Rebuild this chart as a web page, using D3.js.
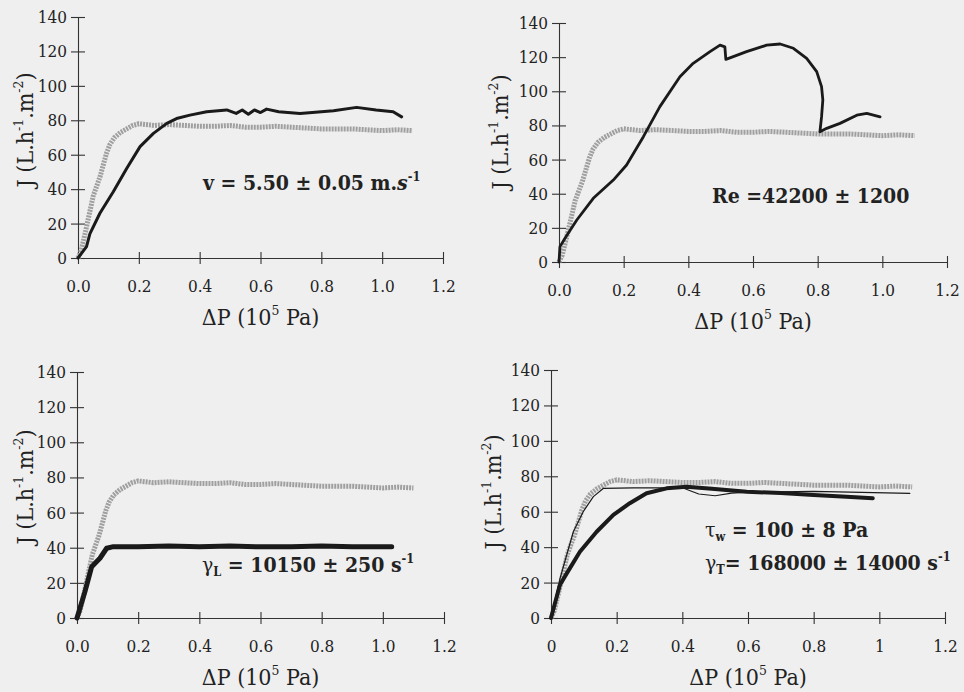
<!DOCTYPE html>
<html>
<head>
<meta charset="utf-8">
<script src="https://cdn.jsdelivr.net/npm/d3@7"></script>
<style>
  body { margin: 0; background: #efefef; }
  svg text { fill: #222; }
</style>
</head>
<body>
<div id="chart"></div>
<script>
// tick values
var xTicks = [0, 0.2, 0.4, 0.6, 0.8, 1.0, 1.2];
var yTicks = [0, 20, 40, 60, 80, 100, 120, 140];

// grey reference curve (same run in every panel) [dP, J]
var grayRef = [[0,0],[0.01,4],[0.023,14],[0.05,36],[0.072,47],[0.094,61],[0.105,66],[0.12,70],
  [0.14,73],[0.16,75],[0.18,77],[0.2,78],[0.25,77],[0.3,77.5],[0.35,77],[0.4,76.5],[0.45,76.5],
  [0.5,77],[0.55,76],[0.6,76],[0.65,76.5],[0.7,76],[0.75,75.5],[0.8,75],[0.85,75],[0.9,75],
  [0.95,74.5],[1.0,74],[1.05,74.5],[1.1,74]];

// black curves
var blackV = [[0,0],[0.028,6.6],[0.039,14],[0.072,26],[0.116,38.5],[0.16,52],[0.204,64.7],
  [0.248,72.4],[0.292,78.2],[0.324,81],[0.368,83],[0.423,85],[0.489,86],[0.52,84],[0.54,86],
  [0.56,83.5],[0.58,86],[0.6,84.5],[0.62,86.5],[0.66,85],[0.73,84],[0.84,85.5],[0.916,87.5],
  [0.98,86],[1.036,85],[1.064,82]];

var blackRe = [[0,0],[0.003,9],[0.019,14],[0.055,24.6],[0.106,37.3],[0.168,48],[0.209,56.8],
  [0.261,73.4],[0.312,91],[0.374,108.5],[0.415,116.4],[0.467,123.2],[0.498,127],[0.513,126],
  [0.516,118.7],[0.539,120.3],[0.58,123.2],[0.642,127],[0.684,127.7],[0.725,125.2],[0.766,119.3],
  [0.797,111.5],[0.812,102.7],[0.816,95],[0.812,85],[0.807,76.3],[0.828,78.3],[0.869,81.2],
  [0.921,86],[0.952,87],[0.993,85]];

var blackGammaL = [[0,0],[0.026,15],[0.048,29.2],[0.075,34],[0.097,39.7],[0.119,40.6],
  [0.2,40.5],[0.3,41],[0.4,40.5],[0.5,41],[0.6,40.5],[0.7,40.5],[0.8,41],[0.9,40.5],[1.029,40.5]];

var blackTau = [[0,0],[0.027,18.6],[0.048,25.2],[0.088,37.4],[0.139,48.7],[0.19,58.2],
  [0.24,64.8],[0.291,70.4],[0.352,73.2],[0.413,74.1],[0.49,73],[0.596,71.3],[0.7,70.5],
  [0.8,69.5],[0.9,68.5],[0.98,67.6]];

var thinTau = [[0,0],[0.027,22],[0.068,48.7],[0.098,60],[0.129,68.5],[0.16,73.2],[0.25,73.5],
  [0.4,73.5],[0.45,70],[0.5,69],[0.55,70.5],[0.6,71],[0.8,71.5],[1.093,70.4]];

var panels = [
  { x0: 78, x1: 443, yb: 258, yt: 17, ylx: 33, yly: 130, fmt: ".1f",
    lines: [{ d: blackV, w: 3 }],
    notes: [{ x: 203, y: 190, parts: [["v = 5.50 ± 0.05 m."], ["s", "i"], ["-1", "sup"]] }] },
  { x0: 559, x1: 947, yb: 262, yt: 23, ylx: 508, yly: 132, fmt: ".1f",
    lines: [{ d: blackRe, w: 2.8 }],
    notes: [{ x: 712, y: 203, parts: [["Re =42200 ± 1200"]] }] },
  { x0: 77, x1: 444, yb: 618, yt: 372, ylx: 33, yly: 487, fmt: ".1f",
    lines: [{ d: blackGammaL, w: 5 }],
    notes: [{ x: 202, y: 572, parts: [["γ", "n"], ["L", "sub"], [" = 10150 ± 250 s"], ["-1", "sup"]] }] },
  { x0: 551, x1: 945, yb: 618, yt: 370, ylx: 501, yly: 492, fmt: "",
    lines: [{ d: thinTau, w: 1.2 }, { d: blackTau, w: 4 }],
    notes: [{ x: 705, y: 537, parts: [["τ", "n"], ["w", "sub"], [" = 100 ± 8 Pa"]] },
            { x: 705, y: 570, parts: [["γ", "n"], ["T", "sub"], ["= 168000 ± 14000 s"], ["-1", "sup"]] }] }
];

var FONT = "DejaVu Serif Condensed, DejaVu Serif, serif";

var svg = d3.select("#chart").append("svg")
    .attr("width", 964).attr("height", 692)
    .attr("font-family", FONT);

svg.append("rect").attr("width", 964).attr("height", 692).attr("fill", "#efefef");

// writes text pieces with super/subscripts as tspans
function richText(t, parts, fs) {
  var shift = 0;
  parts.forEach(function(p) {
    var kind = p[1], want = 0, size = fs;
    if (kind === "sup") { want = -0.42 * fs; size = fs * 0.6; }
    if (kind === "sub") { want = 0.2 * fs; size = fs * 0.6; }
    var ts = t.append("tspan").text(p[0]).attr("font-size", size).attr("dy", want - shift);
    if (kind === "i") ts.attr("font-style", "italic");
    if (kind === "n") ts.attr("font-weight", "normal");
    shift = want;
  });
}

panels.forEach(function(p) {
  var x = d3.scaleLinear().domain([0, 1.2]).range([p.x0, p.x1]);
  var y = d3.scaleLinear().domain([0, 140]).range([p.yb, p.yt]);

  var fmt = p.fmt ? d3.format(p.fmt) : function(d) { return String(d); };

  var gx = svg.append("g").attr("transform", "translate(0," + p.yb + ")")
      .call(d3.axisBottom(x).tickValues(xTicks).tickFormat(fmt).tickSize(6).tickSizeOuter(0).tickPadding(16));
  gx.selectAll(".tick line").attr("y1", -6);

  var gy = svg.append("g").attr("transform", "translate(" + p.x0 + ",0)")
      .call(d3.axisLeft(y).tickValues(yTicks).tickSize(7).tickSizeOuter(0).tickPadding(4));
  gy.selectAll(".tick line").attr("x1", 7);

  svg.selectAll("g").attr("font-family", FONT);
  svg.selectAll(".domain, .tick line").attr("stroke", "#333").attr("stroke-width", 1.1);
  svg.selectAll(".tick text").attr("font-size", 17).attr("fill", "#222");

  var line = d3.line().x(function(d) { return x(d[0]); }).y(function(d) { return y(d[1]); });

  svg.append("path").datum(grayRef).attr("d", line)
      .attr("fill", "none").attr("stroke", "#9f9f9f").attr("stroke-width", 5)
      .attr("stroke-dasharray", "2,1").attr("stroke-linejoin", "round");

  p.lines.forEach(function(l) {
    svg.append("path").datum(l.d).attr("d", line)
        .attr("fill", "none").attr("stroke", "#1a1a1a").attr("stroke-width", l.w)
        .attr("stroke-linejoin", "round").attr("stroke-linecap", "round");
  });

  // axis titles
  var xt = svg.append("text").attr("x", (p.x0 + p.x1) / 2).attr("y", p.yb + 67)
      .attr("text-anchor", "middle").attr("font-size", 23);
  richText(xt, [["ΔP (10"], ["5", "sup"], [" Pa)"]], 23);

  var yt = svg.append("text").attr("transform", "translate(" + p.ylx + "," + p.yly + ") rotate(-90)")
      .attr("text-anchor", "middle").attr("font-size", 23);
  richText(yt, [["J (L.h"], ["-1", "sup"], [".m"], ["-2", "sup"], [")"]], 23);

  p.notes.forEach(function(n) {
    var t = svg.append("text").attr("x", n.x).attr("y", n.y)
        .attr("font-size", 21).attr("font-weight", "bold");
    richText(t, n.parts, 21);
  });
});
</script>
</body>
</html>
